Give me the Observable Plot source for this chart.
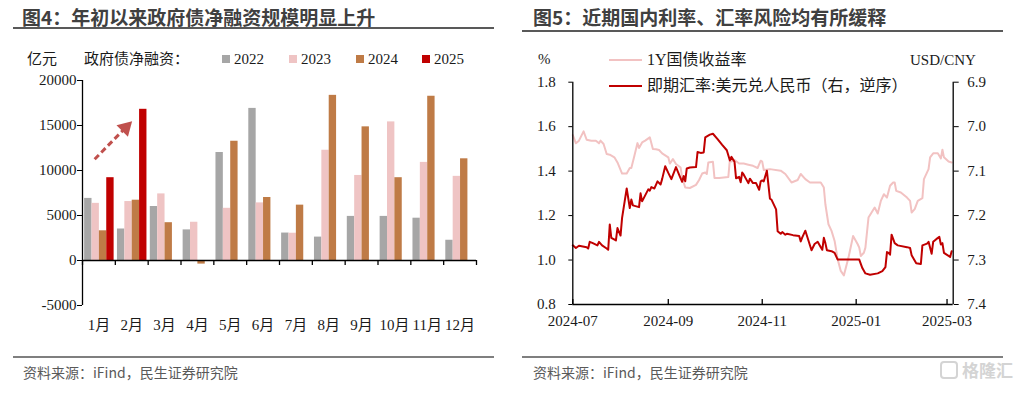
<!DOCTYPE html>
<html>
<head>
<meta charset="utf-8">
<script src="https://cdn.jsdelivr.net/npm/d3@7"></script>
<script src="https://cdn.jsdelivr.net/npm/@observablehq/plot@0.6"></script>
<style>
  html, body { margin: 0; padding: 0; background: #fff; }
  #root { position: relative; width: 1018px; height: 396px; overflow: hidden; background: #fff; }
  .abs { position: absolute; white-space: nowrap; }
  .title { font-family: 'Noto Sans CJK SC', sans-serif; font-weight: 700; font-size: 19px; line-height: 20px; color: #404040; }
  .hr { height: 2px; background: #595959; }
  .hr2 { height: 2px; background: #7f7f7f; }
  .src { font-family: 'Noto Sans CJK SC', sans-serif; font-size: 14px; line-height: 16px; color: #595959; }
  .lab { font-family: 'Liberation Serif', 'Noto Sans CJK SC', serif; font-size: 15px; line-height: 16px; color: #1a1a1a; }
  .sq { width: 8px; height: 8px; }
  .ln { height: 2px; }
  .plot { position: absolute; }
</style>
</head>
<body>
<div id="root">
  <div class="abs title" style="left:22px;top:7px">图4：年初以来政府债净融资规模明显上升</div>
  <div class="abs hr" style="left:13px;top:27px;width:481px"></div>
  <div class="abs title" style="left:533px;top:7px">图5：近期国内利率、汇率风险均有所缓释</div>
  <div class="abs hr" style="left:522px;top:30px;width:481px"></div>

  <div class="abs lab" style="left:27px;top:51px">亿元</div>
  <div class="abs lab" style="left:84px;top:51px">政府债净融资：</div>
  <div id="legendL"></div>

  <div class="abs lab" style="left:538px;top:51px">%</div>
  <div class="abs lab" style="left:910px;top:52px">USD/CNY</div>
  <div id="legendR"></div>

  <div id="chartL" class="plot" style="left:0px;top:70px"></div>
  <div id="chartR" class="plot" style="left:510px;top:70px"></div>

  <div class="abs hr2" style="left:13px;top:356px;width:481px"></div>
  <div class="abs src" style="left:23px;top:364px">资料来源：iFind，民生证券研究院</div>
  <div class="abs hr2" style="left:522px;top:356px;width:481px"></div>
  <div class="abs src" style="left:533px;top:364px">资料来源：iFind，民生证券研究院</div>
  <div class="abs" style="left:940px;top:361px;width:18px;height:18px;border:2px solid #d4d4d4;border-radius:4px;box-sizing:border-box"></div>
  <div class="abs" style="left:962px;top:360px;font-family:'Noto Sans CJK SC',sans-serif;font-weight:700;font-size:17px;line-height:20px;color:#d4d4d4">格隆汇</div>
</div>
<script>
// ---------- Figure 4 data ----------
const months = ["1月","2月","3月","4月","5月","6月","7月","8月","9月","10月","11月","12月"];
const years = ["2022","2023","2024","2025"];
const v2022 = [6900, 3500, 6000, 3400, 12000, 16900, 3050, 2600, 4900, 4900, 4700, 2250];
const v2023 = [6350, 6550, 7400, 4250, 5800, 6400, 3030, 12250, 9450, 15400, 10900, 9350];
const v2024 = [3300, 6700, 4200, -400, 13250, 7000, 6150, 18350, 14850, 9200, 18250, 11300];
const v2025 = [9200, 16800];
const barColors = ["#A6A6A6", "#EFC4C4", "#BF7B46", "#C00000"];
const yTicksL = [-5000, 0, 5000, 10000, 15000, 20000];
const arrowShaft = [{x1: 0.37, y1: 11250, x2: 1.22, y2: 14420}];
const arrowHead = [{x: 1.31, y: 14750}];

// ---------- Figure 5 data ----------
const yieldData = [["2024-07-01",1.562],["2024-07-02",1.544],["2024-07-03",1.525],["2024-07-05",1.537],["2024-07-08",1.579],["2024-07-10",1.541],["2024-07-13",1.537],["2024-07-16",1.537],["2024-07-18",1.525],["2024-07-19",1.537],["2024-07-21",1.522],["2024-07-23",1.477],["2024-07-25",1.474],["2024-07-28",1.462],["2024-07-30",1.439],["2024-08-01",1.406],["2024-08-02",1.389],["2024-08-05",1.389],["2024-08-07",1.414],["2024-08-08",1.414],["2024-08-10",1.469],["2024-08-12",1.526],["2024-08-13",1.504],["2024-08-15",1.529],["2024-08-17",1.537],["2024-08-20",1.552],["2024-08-22",1.499],["2024-08-24",1.498],["2024-08-26",1.495],["2024-08-28",1.480],["2024-09-01",1.462],["2024-09-02",1.434],["2024-09-04",1.454],["2024-09-06",1.432],["2024-09-09",1.416],["2024-09-10",1.371],["2024-09-12",1.326],["2024-09-15",1.324],["2024-09-19",1.338],["2024-09-21",1.360],["2024-09-23",1.389],["2024-09-25",1.394],["2024-09-26",1.387],["2024-09-27",1.439],["2024-09-30",1.442],["2024-10-01",1.369],["2024-10-04",1.369],["2024-10-10",1.374],["2024-10-11",1.454],["2024-10-12",1.443],["2024-10-14",1.450],["2024-10-17",1.434],["2024-10-20",1.434],["2024-10-23",1.429],["2024-10-26",1.424],["2024-10-29",1.414],["2024-10-31",1.447],["2024-11-01",1.443],["2024-11-02",1.405],["2024-11-06",1.409],["2024-11-13",1.402],["2024-11-16",1.387],["2024-11-20",1.349],["2024-11-24",1.360],["2024-11-26",1.387],["2024-11-29",1.364],["2024-12-02",1.349],["2024-12-09",1.349],["2024-12-11",1.326],["2024-12-12",1.251],["2024-12-14",1.161],["2024-12-16",1.131],["2024-12-18",1.086],["2024-12-20",1.003],["2024-12-22",0.951],["2024-12-24",0.931],["2024-12-27",1.011],["2024-12-30",1.108],["2025-01-02",1.071],["2025-01-03",1.056],["2025-01-04",1.018],["2025-01-06",1.033],["2025-01-07",1.056],["2025-01-09",1.191],["2025-01-11",1.214],["2025-01-13",1.236],["2025-01-15",1.209],["2025-01-17",1.266],["2025-01-19",1.296],["2025-01-21",1.281],["2025-01-23",1.334],["2025-01-25",1.349],["2025-01-26",1.349],["2025-01-27",1.311],["2025-01-30",1.304],["2025-02-03",1.281],["2025-02-05",1.266],["2025-02-06",1.214],["2025-02-08",1.229],["2025-02-10",1.266],["2025-02-13",1.278],["2025-02-14",1.364],["2025-02-17",1.409],["2025-02-18",1.462],["2025-02-20",1.480],["2025-02-23",1.480],["2025-02-25",1.457],["2025-02-26",1.496],["2025-02-27",1.462],["2025-03-02",1.443],["2025-03-04",1.439]];
const fxData = [["2024-07-01",7.267],["2024-07-03",7.273],["2024-07-05",7.268],["2024-07-10",7.271],["2024-07-11",7.274],["2024-07-12",7.259],["2024-07-14",7.262],["2024-07-17",7.267],["2024-07-18",7.259],["2024-07-20",7.267],["2024-07-23",7.274],["2024-07-24",7.277],["2024-07-25",7.220],["2024-07-26",7.250],["2024-07-29",7.256],["2024-07-30",7.228],["2024-08-01",7.245],["2024-08-02",7.205],["2024-08-05",7.139],["2024-08-07",7.183],["2024-08-08",7.164],["2024-08-09",7.177],["2024-08-13",7.181],["2024-08-14",7.150],["2024-08-15",7.168],["2024-08-19",7.141],["2024-08-20",7.144],["2024-08-21",7.136],["2024-08-23",7.139],["2024-08-25",7.123],["2024-08-27",7.130],["2024-08-28",7.118],["2024-08-30",7.089],["2024-09-01",7.104],["2024-09-03",7.118],["2024-09-06",7.091],["2024-09-08",7.108],["2024-09-10",7.124],["2024-09-11",7.111],["2024-09-12",7.123],["2024-09-13",7.094],["2024-09-15",7.092],["2024-09-19",7.091],["2024-09-20",7.057],["2024-09-22",7.059],["2024-09-24",7.058],["2024-09-25",7.024],["2024-09-28",7.018],["2024-09-30",7.016],["2024-10-03",7.028],["2024-10-06",7.041],["2024-10-09",7.053],["2024-10-11",7.076],["2024-10-12",7.068],["2024-10-14",7.079],["2024-10-15",7.116],["2024-10-17",7.113],["2024-10-18",7.125],["2024-10-19",7.103],["2024-10-20",7.108],["2024-10-23",7.127],["2024-10-24",7.117],["2024-10-26",7.127],["2024-10-28",7.127],["2024-10-30",7.142],["2024-10-31",7.123],["2024-11-01",7.121],["2024-11-02",7.123],["2024-11-04",7.099],["2024-11-06",7.162],["2024-11-07",7.164],["2024-11-10",7.186],["2024-11-11",7.235],["2024-11-13",7.241],["2024-11-14",7.237],["2024-11-16",7.243],["2024-11-17",7.241],["2024-11-21",7.244],["2024-11-25",7.246],["2024-11-26",7.258],["2024-11-27",7.249],["2024-11-29",7.234],["2024-12-01",7.256],["2024-12-03",7.278],["2024-12-05",7.264],["2024-12-07",7.259],["2024-12-09",7.271],["2024-12-10",7.277],["2024-12-11",7.250],["2024-12-12",7.262],["2024-12-13",7.278],["2024-12-16",7.280],["2024-12-18",7.284],["2024-12-20",7.299],["2025-01-03",7.299],["2025-01-05",7.318],["2025-01-07",7.330],["2025-01-10",7.333],["2025-01-15",7.330],["2025-01-18",7.325],["2025-01-20",7.316],["2025-01-21",7.282],["2025-01-22",7.284],["2025-01-23",7.288],["2025-01-24",7.243],["2025-01-26",7.262],["2025-01-28",7.267],["2025-02-03",7.271],["2025-02-05",7.273],["2025-02-06",7.289],["2025-02-09",7.307],["2025-02-12",7.309],["2025-02-13",7.267],["2025-02-16",7.263],["2025-02-17",7.259],["2025-02-19",7.286],["2025-02-20",7.259],["2025-02-22",7.253],["2025-02-24",7.248],["2025-02-25",7.265],["2025-02-26",7.262],["2025-02-27",7.284],["2025-03-03",7.293],["2025-03-04",7.280]];
const yTicksR = [0.8, 1.0, 1.2, 1.4, 1.6, 1.8];
const fxTicks = [6.9, 7.0, 7.1, 7.2, 7.3, 7.4];
const dateTicks = ["2024-07-01", "2024-09-01", "2024-11-01", "2025-01-01", "2025-03-01"];
const xDomainR = ["2024-07-01", "2025-03-05"];
const seriesNames = ["1Y国债收益率", "即期汇率:美元兑人民币（右，逆序）"];
const lineColors = ["#F2C2C2", "#C00000"];

const serif = "'Liberation Serif','Noto Sans CJK SC',serif";

// ---------- legends ----------
const legL = document.getElementById("legendL");
const legX = [222, 289, 356, 422];
years.forEach((y, k) => {
  const sq = document.createElement("div");
  sq.className = "abs sq";
  sq.style.left = legX[k] + "px"; sq.style.top = "55px"; sq.style.background = barColors[k];
  legL.appendChild(sq);
  const t = document.createElement("div");
  t.className = "abs lab";
  t.style.left = (legX[k] + 12) + "px"; t.style.top = "51px";
  t.textContent = y;
  legL.appendChild(t);
});
const legR = document.getElementById("legendR");
[60, 86].forEach((yy, k) => {
  const l = document.createElement("div");
  l.className = "abs ln";
  l.style.left = "609px"; l.style.top = (yy - 1) + "px"; l.style.width = "33px"; l.style.background = lineColors[k];
  legR.appendChild(l);
  const t = document.createElement("div");
  t.className = "abs lab";
  t.style.left = "647px"; t.style.top = (yy - 8) + "px"; t.style.fontSize = "16px";
  t.textContent = seriesNames[k];
  legR.appendChild(t);
});

// ---------- Figure 4 chart ----------
const rows = [];
[v2022, v2023, v2024, v2025].forEach((arr, k) =>
  arr.forEach((v, m) => rows.push({m, k, year: years[k], value: v})));
const pad = 0.065, w = 0.2245;

const chartL = Plot.plot({
  width: 500, height: 270,
  marginLeft: 82, marginRight: 24, marginTop: 10, marginBottom: 35,
  x: {domain: [0, 12], label: null},
  y: {domain: [-5000, 20000], label: null},
  color: {domain: years, range: barColors},
  style: {fontFamily: serif, fontSize: "15px", color: "#1a1a1a", background: "transparent", overflow: "visible"},
  marks: [
    Plot.rectY(rows, {x1: d => d.m + pad + d.k * w, x2: d => d.m + pad + (d.k + 1) * w, y: "value", fill: "year"}),
    Plot.ruleX([0], {stroke: "#000", strokeWidth: 1.3}),
    Plot.ruleY([0], {stroke: "#000", strokeWidth: 1.3}),
    Plot.ruleX(d3.range(13), {x: d => d, y1: 0, y2: 0, insetBottom: -5, stroke: "#000", strokeWidth: 1.3}),
    Plot.axisY(yTicksL, {tickSize: 5, tickPadding: 1, tickFormat: d => String(d), label: null, stroke: "#000"}),
    Plot.axisX(months.map((_, i) => i + 0.5), {tickSize: 0, tickPadding: 14, tickFormat: i => months[Math.floor(i)], label: null}),
    Plot.link(arrowShaft, {x1: "x1", y1: "y1", x2: "x2", y2: "y2", stroke: "#C0504D", strokeWidth: 3, strokeDasharray: "6,3.5"}),
    Plot.dot(arrowHead, {x: "x", y: "y", symbol: "triangle", r: 6, rotate: 45, fill: "#C0504D", stroke: "none"})
  ]
});
document.getElementById("chartL").appendChild(chartL);

// ---------- Figure 5 chart ----------
const parse = d3.utcParse("%Y-%m-%d");
const fx2y = d3.scaleLinear([6.9, 7.4], [1.8, 0.8]);
const xd = xDomainR.map(parse);

const chartR = Plot.plot({
  width: 500, height: 270,
  marginLeft: 62.3, marginRight: 57.3, marginTop: 11.7, marginBottom: 36,
  x: {type: "utc", domain: xd, label: null},
  y: {domain: [0.8, 1.8], label: null},
  style: {fontFamily: serif, fontSize: "15px", color: "#1a1a1a", background: "transparent", overflow: "visible"},
  marks: [
    Plot.line(yieldData, {x: d => parse(d[0]), y: d => d[1], stroke: lineColors[0], strokeWidth: 2}),
    Plot.line(fxData, {x: d => parse(d[0]), y: d => fx2y(d[1]), stroke: lineColors[1], strokeWidth: 2}),
    Plot.ruleX(xd, {stroke: "#000", strokeWidth: 1.3}),
    Plot.ruleY([0.8], {stroke: "#000", strokeWidth: 1.3}),
    Plot.ruleX(dateTicks.map(parse), {x: d => d, y1: 0.8, y2: 0.8, insetTop: -5, stroke: "#000", strokeWidth: 1.3}),
    Plot.axisY(yTicksR, {anchor: "left", tickSize: 4, tickPadding: 13, tickFormat: d => d.toFixed(1), label: null, stroke: "#000"}),
    Plot.axisY(fxTicks.map(fx2y), {anchor: "right", tickSize: 5, tickPadding: 9, tickFormat: d => fx2y.invert(d).toFixed(1), label: null, stroke: "#000"}),
    Plot.axisX(dateTicks.map(parse), {tickSize: 0, tickPadding: 11, tickFormat: d3.utcFormat("%Y-%m"), label: null})
  ]
});
document.getElementById("chartR").appendChild(chartR);
</script>
</body>
</html>
